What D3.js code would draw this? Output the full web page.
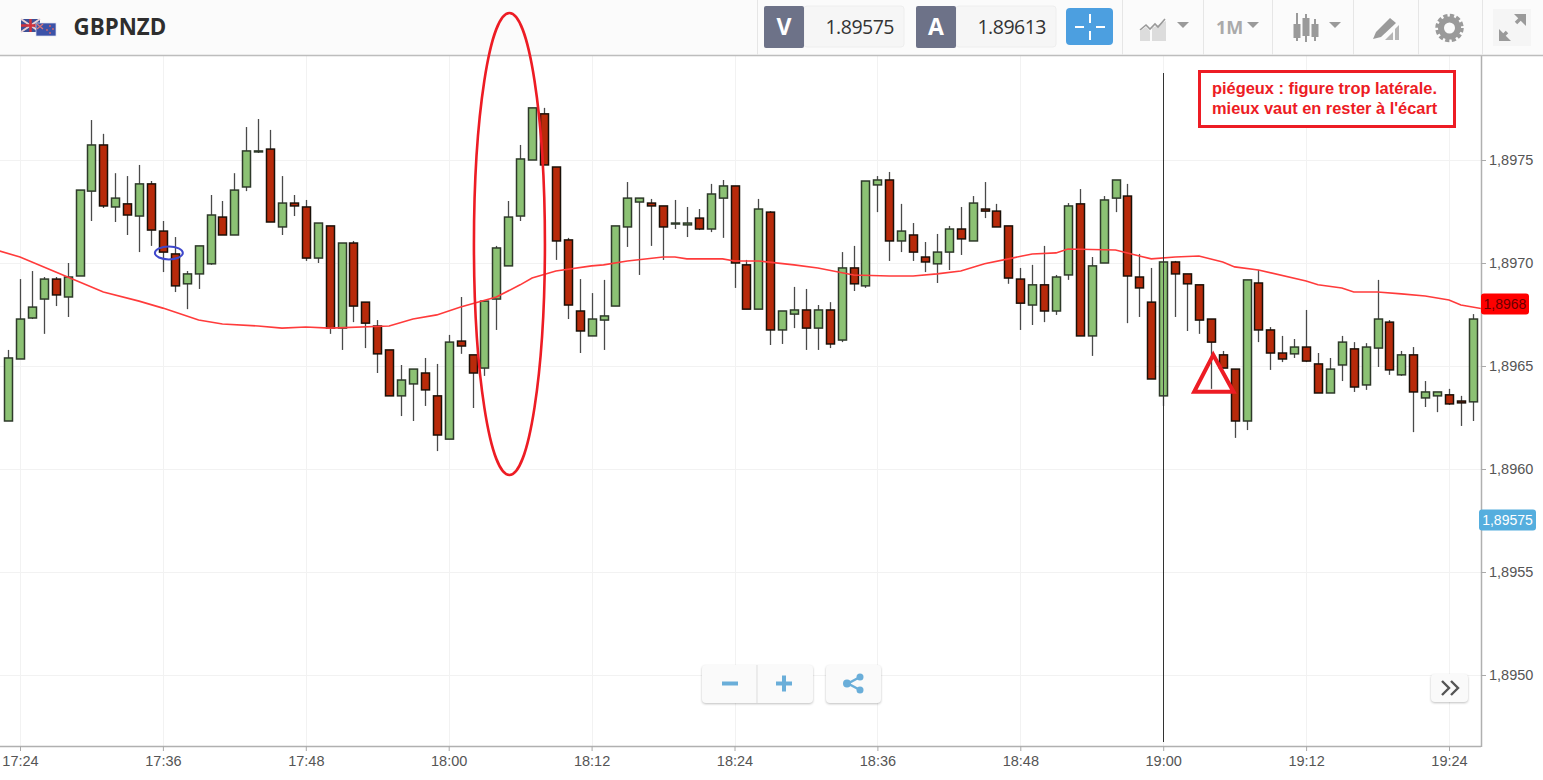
<!DOCTYPE html>
<html>
<head>
<meta charset="utf-8">
<script src="https://cdnjs.cloudflare.com/ajax/libs/d3/7.8.5/d3.min.js"></script>
<style>
	html, body { margin: 0; padding: 0; background: #fff; overflow: hidden; }
	text { font-family: "Liberation Sans", Arial, sans-serif; }
	.axis path.domain { display: none; }
	.axis line { stroke: #aaa; }
	.axis text { fill: #555; font-size: 14.5px; }
</style>
</head>
<body>
<div id="graph"></div>
<script>
// one candle per minute, first one at 17:23
const firstMinute = -1;
const opens = [
	1.896233,1.896534,1.896733,1.896825,1.896922,1.896835,1.896937,1.897349,1.897573,1.897272,
	1.897287,1.897228,1.897384,1.897155,1.897044,1.896899,1.896947,1.896996,1.897223,1.897136,
	1.897369,1.897544,1.897553,1.897175,1.897291,1.897272,1.897024,1.897180,1.896684,1.897097,
	1.896810,1.896694,1.896578,1.896355,1.896413,1.896466,1.896355,1.896145,1.896621,1.896554,
	1.896490,1.896825,1.896986,1.897228,1.897500,1.897724,1.897466,1.897112,1.896767,1.896646,
	1.896723,1.896791,1.897175,1.897296,1.897291,1.897277,1.897191,1.897185,1.897218,1.897165,
	1.897315,1.897374,1.896991,1.896776,1.897247,1.896675,1.896752,1.896772,1.896684,1.896772,
	1.896626,1.896976,1.896889,1.897379,1.897403,1.897107,1.897136,1.897029,1.896996,1.897053,
	1.897165,1.897107,1.897262,1.897252,1.897180,1.896922,1.896796,1.896894,1.896767,1.896942,
	1.897287,1.896646,1.897000,1.897315,1.897325,1.896932,1.896810,1.896355,1.897005,1.896947,
	1.896894,1.896728,1.896554,1.896485,1.896233,1.896903,1.896675,1.896563,1.896559,1.896592,
	1.896510,1.896369,1.896505,1.896583,1.896408,1.896587,1.896713,1.896457,1.896554,1.896345,
	1.896355,1.896360,1.896330,1.896326
];
const highs = [
	1.896578,1.896922,1.896961,1.896932,1.896932,1.897000,1.897354,1.897694,1.897627,1.897436,
	1.897422,1.897476,1.897398,1.897204,1.897126,1.896961,1.897083,1.897330,1.897301,1.897436,
	1.897660,1.897699,1.897646,1.897422,1.897330,1.897306,1.897194,1.897180,1.897097,1.897107,
	1.896810,1.896723,1.896578,1.896505,1.896485,1.896539,1.896510,1.896651,1.896835,1.896554,
	1.896815,1.897083,1.897301,1.897573,1.897753,1.897753,1.897466,1.897122,1.896922,1.896854,
	1.896918,1.897180,1.897393,1.897315,1.897311,1.897277,1.897306,1.897272,1.897262,1.897384,
	1.897403,1.897374,1.897015,1.897311,1.897252,1.896767,1.896884,1.896874,1.896796,1.896810,
	1.897053,1.897083,1.897398,1.897422,1.897442,1.897287,1.897194,1.897102,1.897141,1.897180,
	1.897272,1.897325,1.897393,1.897287,1.897180,1.896976,1.896991,1.897083,1.896942,1.897291,
	1.897359,1.897029,1.897325,1.897403,1.897384,1.897044,1.896976,1.897005,1.897010,1.896947,
	1.896894,1.896728,1.896573,1.896485,1.896918,1.896966,1.896689,1.896646,1.896631,1.896772,
	1.896563,1.896539,1.896646,1.896616,1.896611,1.896918,1.896723,1.896573,1.896592,1.896427,
	1.896374,1.896389,1.896355,1.896752
];
const lows = [
	1.896233,1.896534,1.896728,1.896656,1.896791,1.896738,1.896937,1.897204,1.897267,1.897199,
	1.897136,1.897053,1.897083,1.896956,1.896859,1.896776,1.896874,1.896991,1.897136,1.897136,
	1.897349,1.897534,1.897199,1.897136,1.897228,1.897010,1.897000,1.896656,1.896578,1.896713,
	1.896587,1.896466,1.896355,1.896257,1.896233,1.896306,1.896087,1.896145,1.896559,1.896296,
	1.896452,1.896675,1.896986,1.897204,1.897500,1.897476,1.897015,1.896728,1.896563,1.896646,
	1.896578,1.896791,1.897078,1.896942,1.897083,1.897015,1.897165,1.897126,1.897160,1.897150,
	1.897122,1.896879,1.896776,1.896776,1.896602,1.896607,1.896684,1.896578,1.896578,1.896587,
	1.896616,1.896864,1.896879,1.897247,1.897010,1.897053,1.897010,1.896956,1.896903,1.896966,
	1.897039,1.897107,1.897218,1.897175,1.896899,1.896675,1.896699,1.896713,1.896748,1.896918,
	1.896646,1.896549,1.897000,1.897247,1.896708,1.896738,1.896437,1.896306,1.896738,1.896670,
	1.896656,1.896389,1.896490,1.896151,1.896189,1.896616,1.896481,1.896519,1.896539,1.896519,
	1.896369,1.896369,1.896427,1.896374,1.896384,1.896495,1.896457,1.896452,1.896179,1.896301,
	1.896276,1.896311,1.896209,1.896233
];
const closes = [
	1.896539,1.896728,1.896786,1.896922,1.896845,1.896932,1.897354,1.897573,1.897277,1.897315,
	1.897233,1.897384,1.897160,1.897053,1.896889,1.896947,1.897083,1.897233,1.897136,1.897354,
	1.897544,1.897544,1.897199,1.897291,1.897277,1.897024,1.897194,1.896684,1.897097,1.896791,
	1.896708,1.896559,1.896355,1.896432,1.896485,1.896384,1.896165,1.896616,1.896597,1.896466,
	1.896815,1.897073,1.897223,1.897505,1.897753,1.897476,1.897107,1.896796,1.896670,1.896728,
	1.896743,1.897180,1.897315,1.897315,1.897277,1.897175,1.897194,1.897194,1.897165,1.897335,
	1.897374,1.897000,1.896776,1.897262,1.896675,1.896767,1.896772,1.896684,1.896772,1.896607,
	1.896976,1.896899,1.897398,1.897403,1.897107,1.897155,1.897053,1.897005,1.897053,1.897165,
	1.897117,1.897291,1.897252,1.897175,1.896927,1.896805,1.896894,1.896767,1.896932,1.897277,
	1.896646,1.896986,1.897306,1.897403,1.896937,1.896879,1.896437,1.897005,1.896947,1.896899,
	1.896723,1.896616,1.896490,1.896233,1.896918,1.896675,1.896563,1.896534,1.896592,1.896524,
	1.896369,1.896485,1.896616,1.896398,1.896592,1.896728,1.896481,1.896554,1.896374,1.896374,
	1.896374,1.896316,1.896321,1.896728
];

// moving average, read at these minutes after 17:24
const smaMinutes = [-2,0,4,7,10,12,15,17,20,22,24,26,31,33,35,37,40,42,43,45,48,49,51,54,55,56,59,60,62,65,67,70,73,75,77,79,81,83,85,87,88,92,94,95,97,99,101,102,104,108,109,111,112,114,116,118,120,121,123];
const smaValues = [1.897063,1.897029,1.896932,1.896859,1.896815,1.896781,1.896723,1.896704,1.896694,1.896684,1.896689,1.896684,1.896694,1.896728,1.896748,1.896786,1.896835,1.896894,1.896927,1.896961,1.896986,1.896991,1.897010,1.897029,1.897029,1.897020,1.897020,1.897010,1.897010,1.896991,1.896976,1.896942,1.896937,1.896937,1.896947,1.896961,1.896996,1.897020,1.897044,1.897049,1.897068,1.897063,1.897034,1.897020,1.897029,1.897034,1.897005,1.896981,1.896966,1.896913,1.896894,1.896879,1.896859,1.896859,1.896850,1.896840,1.896820,1.896796,1.896776];

const timeTickMinutes = [0,12,24,36,48,60,72,84,96,108,120];
const timeTickLabels = ["17:24","17:36","17:48","18:00","18:12","18:24","18:36","18:48","19:00","19:12","19:24"];
const priceTicks = [1.8975,1.8970,1.8965,1.8960,1.8955,1.8950];
const lastPrice = 1.8968;
const bidPrice = 1.89575;
const symbol = "GBPNZD";
const bidText = "1.89575";
const askText = "1.89613";
const noteLines = ["piégeux : figure trop latérale.", "mieux vaut en rester à l'écart"];

const [width, height] = [1543, 780];
const plot = { left: 0, right: 1481, top: 56, bottom: 746 };
const minuteZero = new Date(2017, 0, 2, 17, 24);
const at = (m) => d3.timeSecond.offset(minuteZero, Math.round(m * 60));
const x = d3.scaleTime().domain([at(0), at(120)]).range([20, 1449]);
const y = d3.scaleLinear().domain([1.8975, 1.8950]).range([160, 675]);
const comma = (v, n) => v.toFixed(n).replace(".", ",");

const candles = opens.map((o, i) => ({ m: firstMinute + i, o: o, h: highs[i], l: lows[i], c: closes[i] }));

const svg = d3.select("#graph").append("svg").attr("width", width).attr("height", height).style("display", "block");
svg.append("defs").append("clipPath").attr("id", "plotClip").append("rect")
	.attr("x", plot.left).attr("y", plot.top).attr("width", plot.right - plot.left).attr("height", plot.bottom - plot.top);

// grid
const grid = svg.append("g").attr("stroke", "#f2f2f2").attr("stroke-width", 1);
grid.selectAll("line.v").data(timeTickMinutes).enter().append("line").attr("class", "v")
	.attr("x1", (d) => Math.round(x(at(d))) + 0.5).attr("x2", (d) => Math.round(x(at(d))) + 0.5)
	.attr("y1", plot.top).attr("y2", plot.bottom);
grid.selectAll("line.h").data(priceTicks).enter().append("line").attr("class", "h")
	.attr("y1", (d) => Math.round(y(d)) + 0.5).attr("y2", (d) => Math.round(y(d)) + 0.5)
	.attr("x1", plot.left).attr("x2", plot.right);

// candles
const chart = svg.append("g").attr("clip-path", "url(#plotClip)");
chart.append("g").selectAll("line").data(candles).enter().append("line")
	.attr("x1", (d) => Math.round(x(at(d.m))) + 0.5)
	.attr("x2", (d) => Math.round(x(at(d.m))) + 0.5)
	.attr("y1", (d) => y(d.h))
	.attr("y2", (d) => y(d.l))
	.attr("stroke", "#4a4a4a")
	.attr("stroke-width", 1.3);
chart.append("g").selectAll("rect").data(candles).enter().append("rect")
	.attr("x", (d) => Math.round(x(at(d.m))) - 3.5)
	.attr("width", 8)
	.attr("y", (d) => y(Math.max(d.o, d.c)))
	.attr("height", (d) => Math.max(1, Math.abs(y(d.o) - y(d.c))))
	.attr("fill", (d) => d.c >= d.o ? "#8cc274" : "#b82a0a")
	.attr("stroke", (d) => d.c >= d.o ? "#2e3a2a" : "#1a1008")
	.attr("stroke-width", 1.5);

const smaLine = d3.line().x((d, i) => x(at(smaMinutes[i]))).y((d) => y(d));
chart.append("path").datum(smaValues).attr("d", smaLine)
	.attr("fill", "none").attr("stroke", "#ff3b3b").attr("stroke-width", 1.6);

// frame and axes
svg.append("line").attr("x1", plot.right + 0.5).attr("x2", plot.right + 0.5).attr("y1", plot.top).attr("y2", plot.bottom + 1)
	.attr("stroke", "#b0b0b0").attr("stroke-width", 1.5);
svg.append("line").attr("x1", 0).attr("x2", plot.right).attr("y1", plot.bottom + 0.5).attr("y2", plot.bottom + 0.5)
	.attr("stroke", "#b0b0b0").attr("stroke-width", 1.5);

const priceAxis = d3.axisRight(y).tickValues(priceTicks).tickSize(5).tickPadding(3).tickFormat((d) => comma(d, 4));
svg.append("g").attr("class", "y axis").attr("transform", `translate(${plot.right}, 0)`).call(priceAxis);
const timeAxis = d3.axisBottom(x).tickValues(timeTickMinutes.map(at)).tickSize(5).tickPadding(5)
	.tickFormat((d, i) => timeTickLabels[i]);
svg.append("g").attr("class", "x axis").attr("transform", `translate(0, ${plot.bottom})`).call(timeAxis);

// price tags
const tag = (price, label, fill, color, x0, w) => {
	const cy = Math.round(y(price));
	svg.append("rect").attr("x", x0).attr("y", cy - 10.5).attr("width", w).attr("height", 21).attr("rx", 3).attr("fill", fill);
	svg.append("text").attr("x", x0 + w / 2).attr("y", cy + 5).attr("text-anchor", "middle")
		.attr("font-size", 14).attr("fill", color).text(label);
};
tag(lastPrice, comma(lastPrice, 4), "#ff0000", "#6a0000", 1481, 48);
tag(bidPrice, comma(bidPrice, 5), "#55aede", "#ffffff", 1479, 57);

// zoom buttons
const panel = (px, py, w, h) => svg.append("rect").attr("x", px).attr("y", py).attr("width", w).attr("height", h).attr("rx", 4)
	.attr("fill", "#fafafa").style("filter", "drop-shadow(0 1px 1px rgba(0,0,0,0.25))");
panel(702, 665, 111, 38);
panel(826, 665, 55, 38);
panel(1431, 674, 37, 28);
svg.append("line").attr("x1", 757).attr("x2", 757).attr("y1", 665).attr("y2", 703).attr("stroke", "#ddd");
const blue = "#6aaed9";
svg.append("path").attr("d", "M722 683.5h16M776 683.5h16M784 675.5v16").attr("stroke", blue).attr("stroke-width", 4).attr("fill", "none");
svg.append("path").attr("d", "M860 677L848 683.5L860 690").attr("stroke", blue).attr("stroke-width", 2.5).attr("fill", "none");
svg.selectAll("circle.share").data([[860, 677, 3.5], [847, 683.5, 4], [860, 690, 3.5]]).enter().append("circle").attr("class", "share")
	.attr("cx", (d) => d[0]).attr("cy", (d) => d[1]).attr("r", (d) => d[2]).attr("fill", blue);
svg.append("path").attr("d", "M1442 681L1449 688L1442 695M1451 681L1458 688L1451 695").attr("stroke", "#555").attr("stroke-width", 2.4).attr("fill", "none");

// toolbar
svg.append("rect").attr("width", width).attr("height", 55).attr("fill", "#fbfbfb");
svg.append("line").attr("x1", 0).attr("x2", width).attr("y1", 55.5).attr("y2", 55.5).attr("stroke", "#bdbdbd").attr("stroke-width", 1.5);
const separators = [757, 1122, 1203, 1272, 1353, 1418, 1482];
svg.selectAll("line.sep").data(separators).enter().append("line").attr("class", "sep")
	.attr("x1", (d) => d + 0.5).attr("x2", (d) => d + 0.5).attr("y1", 0).attr("y2", 55).attr("stroke", "#e6e6e6");

// flags
const flags = svg.append("g");
flags.append("rect").attr("x", 21).attr("y", 19).attr("width", 19).attr("height", 13).attr("fill", "#3c4f96");
flags.append("path").attr("d", "M21 19L40 32M40 19L21 32").attr("stroke", "#e8d0d4").attr("stroke-width", 2);
flags.append("path").attr("d", "M30.5 19v13M21 25.5h19").attr("stroke", "#d0323c").attr("stroke-width", 2.5);
flags.append("rect").attr("x", 36).attr("y", 23).attr("width", 20).attr("height", 13).attr("fill", "#3c52a8").attr("stroke", "#dfe3f0").attr("stroke-width", 0.7);
flags.append("path").attr("d", "M37 24L43 29M43 24L37 29").attr("stroke", "#d77").attr("stroke-width", 1.3);
flags.selectAll("circle").data([[50, 26], [53, 29], [47, 30], [50, 33]]).enter().append("circle")
	.attr("cx", (d) => d[0]).attr("cy", (d) => d[1]).attr("r", 0.9).attr("fill", "#d66");
svg.append("text").attr("x", 73.5).attr("y", 35).attr("font-size", 22.3).attr("font-weight", "bold")
	.style("font-family", "'Open Sans'").attr("fill", "#2e2e2e").text(symbol);

// bid and ask boxes
const quote = (px, letter, value) => {
	svg.append("rect").attr("x", px + 40).attr("y", 6).attr("width", 100).attr("height", 41).attr("rx", 3).attr("fill", "#f6f6f6").attr("stroke", "#eee");
	svg.append("rect").attr("x", px).attr("y", 6).attr("width", 40).attr("height", 42).attr("rx", 2).attr("fill", "#6d7288");
	svg.append("text").attr("x", px + 20).attr("y", 35).attr("text-anchor", "middle").attr("font-size", 23).attr("font-weight", "bold")
		.style("font-family", "'Open Sans'").attr("fill", "#fff").text(letter);
	svg.append("text").attr("x", px + 130).attr("y", 34).attr("text-anchor", "end").attr("font-size", 19.5)
		.style("font-family", "'Open Sans'").attr("letter-spacing", -0.5).attr("fill", "#333").text(value);
};
quote(764, "V", bidText);
quote(916, "A", askText);

// crosshair button
svg.append("rect").attr("x", 1066).attr("y", 8).attr("width", 47).attr("height", 37).attr("rx", 4).attr("fill", "#4c9fe0");
svg.append("path").attr("d", "M1090 14v9M1090 31v9M1075 27h9M1096 27h9").attr("stroke", "#fff").attr("stroke-width", 2);

// grey toolbar icons
const iconGrey = "#9a9a9a";
const caret = (cx) => svg.append("path").attr("d", `M${cx - 6} 22h12l-6 6z`).attr("fill", iconGrey);
svg.append("path").attr("d", "M1140 41V31l6-4 4 4v10zM1152 41V28l14-7v20z").attr("fill", "#dcdcdc");
svg.append("path").attr("d", "M1140 30l6-5 4 4 5-5 3 3 7-8").attr("fill", "none").attr("stroke", "#999").attr("stroke-width", 1.6);
caret(1183);
svg.append("text").attr("x", 1216).attr("y", 34).attr("font-size", 18).attr("font-weight", "bold")
	.style("font-family", "'Open Sans'").attr("fill", "#aaa").text("1M");
caret(1253);
const candleIcon = [[1297, 24, 14, 13, 41], [1306, 18, 18, 14, 42], [1315, 24, 13, 19, 41]];
svg.selectAll("line.ci").data(candleIcon).enter().append("line").attr("class", "ci")
	.attr("x1", (d) => d[0]).attr("x2", (d) => d[0]).attr("y1", (d) => d[3]).attr("y2", (d) => d[4]).attr("stroke", iconGrey).attr("stroke-width", 2);
svg.selectAll("rect.ci").data(candleIcon).enter().append("rect").attr("class", "ci")
	.attr("x", (d) => d[0] - 3.5).attr("width", 7).attr("y", (d) => d[1]).attr("height", (d) => d[2]).attr("fill", iconGrey);
caret(1335);
svg.append("path").attr("d", "M1373 39l3-7 14-14 6 5-15 14z").attr("fill", "#9a9a9a");
svg.append("path").attr("d", "M1385 40l8-8v8zM1395 40V29l4-4v15z").attr("fill", "#b5b5b5");
svg.append("circle").attr("cx", 1449.5).attr("cy", 28).attr("r", 8.5).attr("fill", "none").attr("stroke", iconGrey).attr("stroke-width", 6);
svg.append("circle").attr("cx", 1449.5).attr("cy", 28).attr("r", 12.5).attr("fill", "none").attr("stroke", iconGrey).attr("stroke-width", 3.5).attr("stroke-dasharray", "4.2 2.34");
svg.append("rect").attr("x", 1493).attr("y", 9).attr("width", 38).attr("height", 37).attr("fill", "#f5f5f5");
svg.append("path").attr("d", "M1516 23l6-6M1507 32l-6 6").attr("stroke", iconGrey).attr("stroke-width", 3.5).attr("fill", "none");
svg.append("path").attr("d", "M1514 14h12v12zM1499 29v12h12z").attr("fill", iconGrey);

// hand drawn notes, they run over the toolbar
const red = "#ed1c24";
svg.append("ellipse").attr("cx", x(at(41.1))).attr("cy", y(1.897092)).attr("rx", 35.5).attr("ry", 231)
	.attr("fill", "none").attr("stroke", red).attr("stroke-width", 2.6);
svg.append("ellipse").attr("cx", x(at(12.5))).attr("cy", y(1.897049)).attr("rx", 14).attr("ry", 6.5)
	.attr("fill", "none").attr("stroke", "#3f48cc").attr("stroke-width", 2);
const triangle = [[100.2, 1.896554], [98.6, 1.896375], [101.9, 1.896375]];
svg.append("polygon").attr("points", triangle.map((p) => `${x(at(p[0]))},${y(p[1])}`).join(" "))
	.attr("fill", "none").attr("stroke", red).attr("stroke-width", 4);
svg.append("line").attr("x1", Math.round(x(at(96))) + 0.5).attr("x2", Math.round(x(at(96))) + 0.5).attr("y1", 73).attr("y2", 742)
	.attr("stroke", "#333").attr("stroke-width", 1);
svg.append("rect").attr("x", 1199.5).attr("y", 71.5).attr("width", 255).attr("height", 55)
	.attr("fill", "#fff").attr("stroke", red).attr("stroke-width", 3);
svg.selectAll("text.note").data(noteLines).enter().append("text").attr("class", "note")
	.attr("x", 1212).attr("y", (d, i) => 94 + i * 20)
	.attr("font-size", 16.4).attr("font-weight", "bold").attr("fill", red).text((d) => d);
</script>
</body>
</html>
